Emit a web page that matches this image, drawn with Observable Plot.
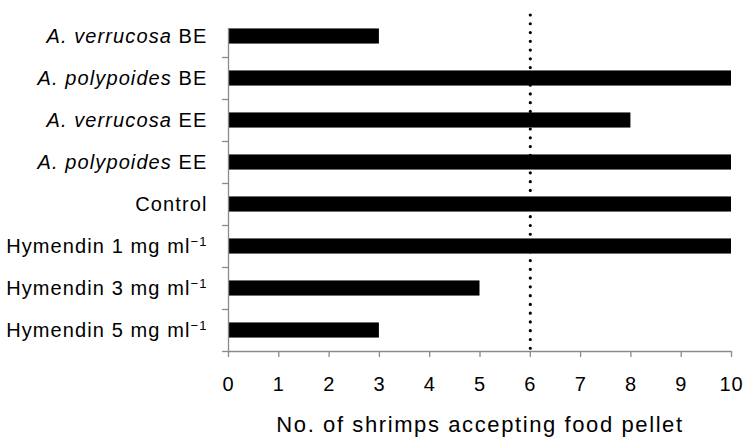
<!DOCTYPE html>
<html>
<head>
<meta charset="utf-8">
<script src="https://cdn.jsdelivr.net/npm/d3@7"></script>
<script src="https://cdn.jsdelivr.net/npm/@observablehq/plot@0.6"></script>
<style>
  html, body { margin: 0; padding: 0; background: white; }
</style>
</head>
<body>
<div id="chart"></div>
<script>
const categories = [
  "A. verrucosa BE",
  "A. polypoides BE",
  "A. verrucosa EE",
  "A. polypoides EE",
  "Control",
  "Hymendin 1 mg ml−1",
  "Hymendin 3 mg ml−1",
  "Hymendin 5 mg ml−1"
];
const values = [3, 10, 8, 10, 10, 10, 5, 3];
const threshold = [6];
const xTicks = [0, 1, 2, 3, 4, 5, 6, 7, 8, 9, 10];
const xLabel = "No. of shrimps accepting food pellet";

const n = categories.length;
const data = categories.map((c, i) => ({cat: c, i, v: values[i]}));
const idx = d3.range(n);
const between = d3.range(0.5, n, 1);
const axisColor = "#8a8a8a";

const chart = Plot.plot({
  width: 745,
  height: 437,
  marginLeft: 228,
  marginRight: 14,
  marginTop: 15,
  marginBottom: 86,
  style: {fontFamily: "'Liberation Sans', Arial, sans-serif", background: "white", color: "black"},
  x: {domain: [0, 10]},
  y: {domain: [-0.5, n - 0.5], reverse: true},
  marks: [
    Plot.rectX(data, {x1: 0, x2: "v", y1: d => d.i - 0.18, y2: d => d.i + 0.18, fill: "black"}),
    Plot.ruleY([n - 0.5], {x1: 0, x2: 10, stroke: axisColor, strokeWidth: 1.3}),
    Plot.ruleX([0], {y1: -0.18, y2: n - 0.5, stroke: axisColor, strokeWidth: 1.3}),
    Plot.axisX({ticks: xTicks, tickSize: 6, tickPadding: 19, fontSize: 20, stroke: axisColor,
      strokeWidth: 1.3, color: "black", label: xLabel, labelAnchor: "center", labelArrow: false, labelOffset: 80}),
    Plot.axisY({ticks: between, tickSize: 6, tickFormat: () => "", stroke: axisColor, strokeWidth: 1.3, label: null}),
    Plot.axisY({ticks: idx, tickSize: 0, tickPadding: 21, fontSize: 20, tickFormat: i => categories[i], label: null}),
    Plot.ruleX(threshold, {y1: -0.5, y2: n - 0.5, stroke: "black", strokeWidth: 3.2,
      strokeDasharray: "0 8.77", strokeLinecap: "round"})
  ]
});
document.getElementById("chart").appendChild(chart);

const svg = d3.select(chart);
// y labels: italic species names, superscripts
svg.selectAll('g[aria-label="y-axis tick label"] text').each(function () {
  const t = d3.select(this);
  const s = t.text();
  t.text("").attr("letter-spacing", "1.1px").attr("fill", "black");
  if (s.startsWith("A. ")) {
    const parts = s.split(" ");
    const suffix = parts.pop();
    t.append("tspan").attr("font-style", "italic").text(parts.join(" "));
    t.append("tspan").text(" " + suffix);
  } else if (s.endsWith("ml−1")) {
    t.append("tspan").text(s.slice(0, -2));
    t.append("tspan").attr("font-size", 13).attr("dy", "-0.55em").text("−1");
  } else {
    t.text(s);
  }
});
svg.selectAll('g[aria-label="x-axis tick label"] text').attr("letter-spacing", "0.8px");
svg.selectAll('g[aria-label="x-axis label"] text').attr("font-size", 22).attr("letter-spacing", "1.6px").attr("fill", "black");
</script>
</body>
</html>
